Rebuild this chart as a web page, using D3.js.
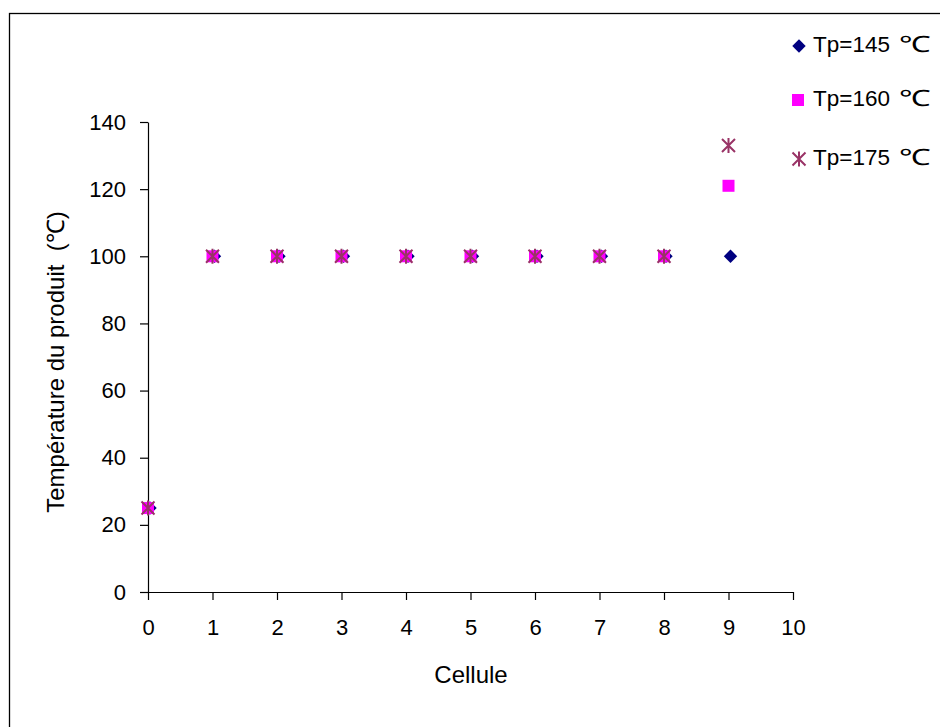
<!DOCTYPE html>
<html><head><meta charset="utf-8">
<script src="https://cdn.jsdelivr.net/npm/d3@7"></script>
<style>body{margin:0;background:#fff}svg text{font-family:"Liberation Sans",Arial,sans-serif;fill:#000}</style>
</head><body>
<svg id="c" width="940" height="727"></svg>
<script>
const cells = [0,1,2,3,4,5,6,7,8,9];
const tp145 = [25,100,100,100,100,100,100,100,100,100];
const tp160 = [25,100,100,100,100,100,100,100,100,121];
const tp175 = [25,100,100,100,100,100,100,100,100,133];
const seriesNames = ["Tp=145","Tp=160","Tp=175"];
const xTicks = [0,1,2,3,4,5,6,7,8,9,10];
const yTicks = [0,20,40,60,80,100,120,140];

const svg = d3.select("#c");
svg.append("rect").attr("x",9.5).attr("y",13.5).attr("width",960).attr("height",740)
  .attr("fill","none").attr("stroke","#000").attr("stroke-width",1.3);

const x = d3.scaleLinear().domain([0,10]).range([148,793]);
const y = d3.scaleLinear().domain([0,140]).range([592,122]);

const xa = svg.append("g").attr("transform","translate(0,592)")
  .call(d3.axisBottom(x).tickValues(xTicks).tickSize(8).tickSizeOuter(0).tickPadding(19).tickFormat(d3.format("d")));
const ya = svg.append("g").attr("transform","translate(148,0)")
  .call(d3.axisLeft(y).tickValues(yTicks).tickSize(8).tickSizeOuter(0).tickPadding(14).tickFormat(d3.format("d")));
[xa,ya].forEach(a=>{a.attr("font-family",null).attr("font-size",null);
  a.selectAll("text").style("font-size","22px").attr("fill","#000");
  a.selectAll("line,path").attr("stroke","#000").attr("stroke-width",1.2);});

svg.append("text").attr("x",471).attr("y",683).attr("text-anchor","middle").style("font-size","24px").text("Cellule");
svg.append("text").attr("transform","translate(64,362) rotate(-90)").attr("text-anchor","middle")
  .style("font-size","24px").style("white-space","pre").text("Température du produit  (\u2103)");

function drawDiamond(g,cx,cy){g.append("path").attr("d",d3.symbol().type(d3.symbolSquare).size(90)()).attr("transform",`translate(${cx},${cy}) rotate(45)`).attr("fill","#000080");}
function drawSquare(g,cx,cy){g.append("rect").attr("x",cx-6).attr("y",cy-6).attr("width",12).attr("height",12).attr("fill","#ff00ff");}
function drawStar(g,cx,cy){
  const s=6.5;
  g.append("path").attr("d",`M${cx-s},${cy-s}L${cx+s},${cy+s}M${cx-s},${cy+s}L${cx+s},${cy-s}M${cx},${cy-s-1}L${cx},${cy+s+1}`)
   .attr("stroke","#993366").attr("stroke-width",2).attr("fill","none");
}
const g = svg.append("g");
cells.forEach((c,i)=>drawDiamond(g,x(c)+2,y(tp145[i])));
cells.forEach((c,i)=>drawSquare(g,x(c),y(tp160[i])));
cells.forEach((c,i)=>drawStar(g,x(c),y(tp175[i])));

const lg = svg.append("g");
const ly = [46,100,159];
drawDiamond(lg,799,ly[0]);
drawSquare(lg,798,ly[1]);
drawStar(lg,799,ly[2]);
seriesNames.forEach((n,i)=>{
  lg.append("text").attr("x",813).attr("y",ly[i]+6).style("font-size","22.5px").text(n);
  lg.append("text").attr("x",899).attr("y",ly[i]+6).style("font-size","22.5px")
    .attr("textLength",31).attr("lengthAdjust","spacingAndGlyphs").text("\u2103");
});
</script>
</body></html>
